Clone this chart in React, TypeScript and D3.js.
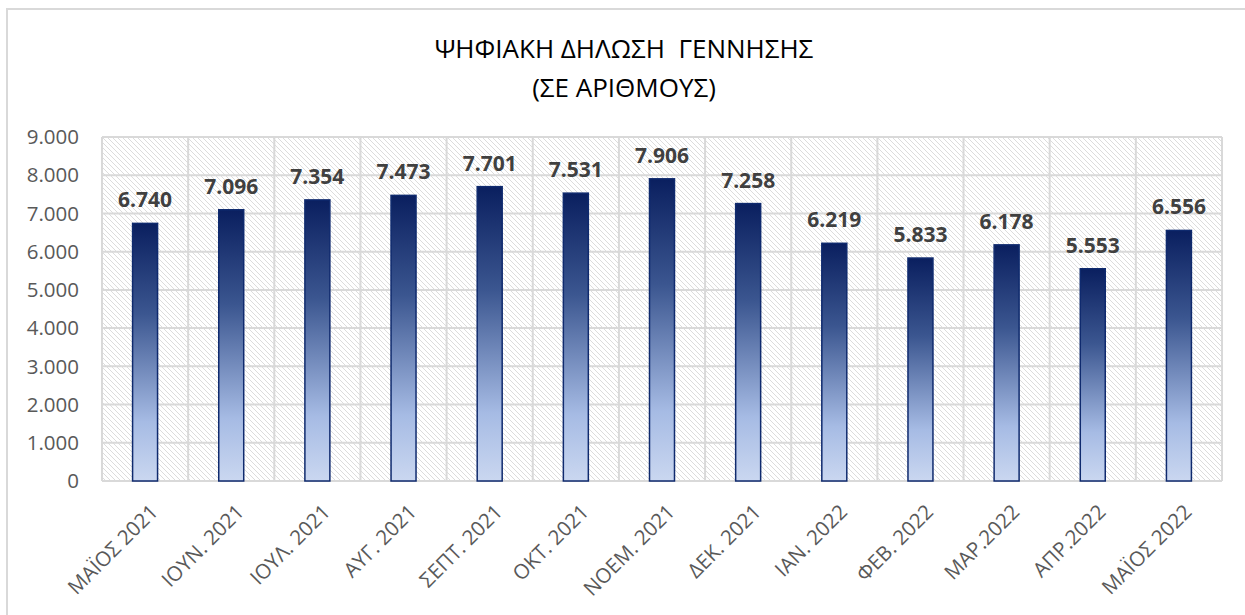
import * as d3 from "d3";

const W = 1245;
const H = 615;
const MARGIN = { top: 137, right: 23, bottom: 134, left: 102 };

const TITLE = "ΨΗΦΙΑΚΗ ΔΗΛΩΣΗ  ΓΕΝΝΗΣΗΣ";
const SUBTITLE = "(ΣΕ ΑΡΙΘΜΟΥΣ)";

const months = [
  "ΜΑΪΟΣ 2021", "ΙΟΥΝ. 2021", "ΙΟΥΛ. 2021", "ΑΥΓ. 2021", "ΣΕΠΤ. 2021",
  "ΟΚΤ. 2021", "ΝΟΕΜ. 2021", "ΔΕΚ. 2021", "ΙΑΝ. 2022", "ΦΕΒ. 2022",
  "ΜΑΡ.2022", "ΑΠΡ.2022", "ΜΑΪΟΣ 2022",
];
const births = [6740, 7096, 7354, 7473, 7701, 7531, 7906, 7258, 6219, 5833, 6178, 5553, 6556];
const yTicks = [0, 1000, 2000, 3000, 4000, 5000, 6000, 7000, 8000, 9000];

const locale = d3.formatLocale({ decimal: ",", thousands: ".", grouping: [3], currency: ["€", ""] });
const fmt = locale.format(",");

const FONT = "'Open Sans', 'Noto Sans', sans-serif";

export default function App() {
  const innerW = W - MARGIN.left - MARGIN.right;
  const innerH = H - MARGIN.top - MARGIN.bottom;

  const x = d3.scaleBand().domain(months).range([0, innerW]).paddingInner(0).paddingOuter(0);
  const y = d3.scaleLinear().domain([0, 9000]).range([innerH, 0]);
  const barW = x.bandwidth() * 0.29;

  return (
    <svg width={W} height={H} style={{ position: "absolute", left: 0, top: 0, background: "#fff" }}>
      <defs>
        <pattern id="hatch" width="5" height="5" patternUnits="userSpaceOnUse">
          <rect width="5" height="5" fill="#ffffff" />
          <path d="M-1,-1 L6,6 M-1,4 L1,6 M4,-1 L6,1" stroke="#dcdcdc" strokeWidth="1" />
        </pattern>
        <linearGradient id="barGrad" x1="0" y1="0" x2="0" y2="1">
          <stop offset="0" stopColor="#0a1f5f" />
          <stop offset="0.35" stopColor="#3b5690" />
          <stop offset="0.77" stopColor="#a6bbe4" />
          <stop offset="1" stopColor="#cad7f0" />
        </linearGradient>
      </defs>

      <rect x={7} y={9} width={1240} height={620} fill="#fff" stroke="#d9d9d9" strokeWidth={2} />

      <text x={624} y={58} textAnchor="middle" fontFamily={FONT} fontSize={26} fill="#000" style={{ whiteSpace: "pre" }}>
        {TITLE}
      </text>
      <text x={624} y={97} textAnchor="middle" fontFamily={FONT} fontSize={26} fill="#000">
        {SUBTITLE}
      </text>

      <g transform={`translate(${MARGIN.left}, ${MARGIN.top})`}>
        <rect x={0} y={0} width={innerW} height={innerH} fill="url(#hatch)" />

        {yTicks.map((t) => (
          <g key={t}>
            <line x1={0} x2={innerW} y1={y(t)} y2={y(t)} stroke="#d9d9d9" strokeWidth={2} />
            <text
              x={-23}
              y={y(t)}
              dy="0.35em"
              textAnchor="end"
              fontFamily={FONT}
              fontSize={20.5}
              fill="#595959"
            >
              {fmt(t)}
            </text>
          </g>
        ))}

        {months.map((m) => (
          <line key={m} x1={x(m)} x2={x(m)} y1={0} y2={innerH} stroke="#d9d9d9" strokeWidth={2} />
        ))}
        <line x1={innerW} x2={innerW} y1={0} y2={innerH} stroke="#d9d9d9" strokeWidth={2} />

        {months.map((m, i) => {
          const cx = (x(m) as number) + x.bandwidth() / 2;
          const v = births[i];
          return (
            <g key={m}>
              <rect
                x={cx - barW / 2}
                y={y(v)}
                width={barW}
                height={innerH - y(v)}
                fill="url(#barGrad)"
                stroke="#0f2a6e"
                strokeWidth={1.5}
              />
              <text
                x={cx}
                y={y(v) - 16}
                textAnchor="middle"
                fontFamily={FONT}
                fontWeight="bold"
                fontSize={21}
                fill="#404040"
              >
                {fmt(v)}
              </text>
              <text
                transform={`translate(${cx + 4}, ${innerH + 22}) rotate(-45)`}
                textAnchor="end"
                dy="0.7em"
                fontFamily={FONT}
                fontSize={20.5}
                fill="#595959"
              >
                {m}
              </text>
            </g>
          );
        })}
      </g>
    </svg>
  );
}
